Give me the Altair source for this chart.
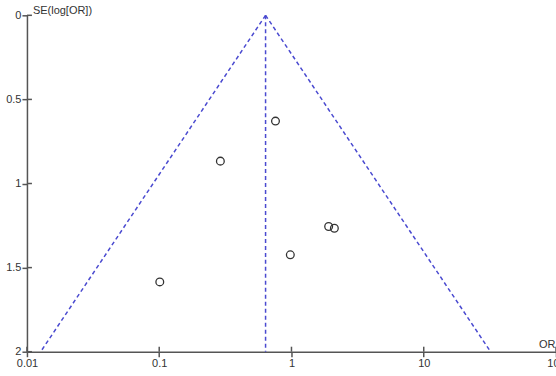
import altair as alt
import pandas as pd

# study points
study_or = [0.757, 0.29, 1.91, 2.11, 0.98, 0.101]
study_se = [0.629, 0.867, 1.256, 1.266, 1.424, 1.585]

# pooled estimate and funnel limits
pooled_or = 0.637
funnel_or = [0.0127, 0.637, 32.0]
funnel_se = [2.0, 0.0, 2.0]

x_ticks = [0.01, 0.1, 1, 10, 100]
y_ticks = [0, 0.5, 1, 1.5, 2]

pts = pd.DataFrame({"or": study_or, "se": study_se})
fun = pd.DataFrame({
    "or": [funnel_or[0], funnel_or[1], funnel_or[1], funnel_or[2]],
    "se": [funnel_se[0], funnel_se[1], funnel_se[1], funnel_se[2]],
    "side": ["L", "L", "R", "R"],
})
pool = pd.DataFrame({"or": [pooled_or, pooled_or], "se": [0.0, 2.0]})
xt = pd.DataFrame({"or": x_ticks})
yt = pd.DataFrame({"se": y_ticks})

axis_color = "#555555"
label_color = "#333333"
blue = "#4a4ad0"
font = "Liberation Sans"
H = 337

xscale = alt.Scale(type="log", domain=[0.01, 100], nice=False)
yscale = alt.Scale(domain=[0, 2], reverse=True, nice=False, zero=False)

xaxis = alt.Axis(values=x_ticks, title=None, grid=False, domainColor=axis_color,
                 tickColor=axis_color, tickSize=5, tickWidth=1.5, domainWidth=1.5,
                 labelColor=label_color, labelFontSize=11, labelFont=font,
                 labelExpr="datum.value >= 1 ? format(datum.value, 'd') : format(datum.value, '.2~f')",
                 labelPadding=1, labelFlush=False, labelOverlap=False)
yaxis = alt.Axis(values=y_ticks, title=None, grid=False, domainColor=axis_color,
                 tickColor=axis_color, tickSize=5, tickWidth=1.5, domainWidth=1.5,
                 labelColor=label_color, labelFontSize=11, labelFont=font,
                 labelExpr="format(datum.value, '~g')", labelPadding=1,
                 labelFlush=False, labelOverlap=False)

base_x = alt.X("or:Q", scale=xscale, axis=xaxis)
base_y = alt.Y("se:Q", scale=yscale, axis=yaxis)

funnel = alt.Chart(fun).mark_line(color=blue, strokeDash=[4, 3], strokeWidth=1.5).encode(
    x=base_x, y=base_y, detail="side:N", order=alt.Order("se:Q"))
pooled = alt.Chart(pool).mark_line(color=blue, strokeDash=[4, 3], strokeWidth=1.5).encode(
    x="or:Q", y="se:Q")
points = alt.Chart(pts).mark_point(shape="circle", filled=False, color="#333333",
                                   size=60, strokeWidth=1.3, opacity=1).encode(
    x="or:Q", y="se:Q")

# inner halves of the crossing tick marks
xin = alt.Chart(xt).mark_rule(color=axis_color, strokeWidth=1.5).encode(
    x="or:Q", y=alt.value(H - 5), y2=alt.value(H))
yin = alt.Chart(yt).mark_rule(color=axis_color, strokeWidth=1.5).encode(
    y="se:Q", x=alt.value(0), x2=alt.value(5))

ytitle = alt.Chart(pd.DataFrame({"t": ["SE(log[OR])"]})).mark_text(
    align="left", baseline="middle", font=font, fontSize=11, color=label_color).encode(
    text="t:N", x=alt.value(6), y=alt.value(-4))
xtitle = alt.Chart(pd.DataFrame({"t": ["OR"]})).mark_text(
    align="left", baseline="bottom", font=font, fontSize=11, color=label_color).encode(
    text="t:N", x=alt.value(513), y=alt.value(335))

chart = alt.layer(funnel, pooled, points, xin, yin, ytitle, xtitle).properties(
    width=530, height=H,
    padding={"left": 27, "top": 15, "right": 0, "bottom": 24},
    autosize=alt.AutoSizeParams(type="none"),
    background="white",
).configure_view(stroke=None).configure_axis(domainCap="butt")

chart.save("out.html", embed_options={"renderer": "svg", "actions": False})
